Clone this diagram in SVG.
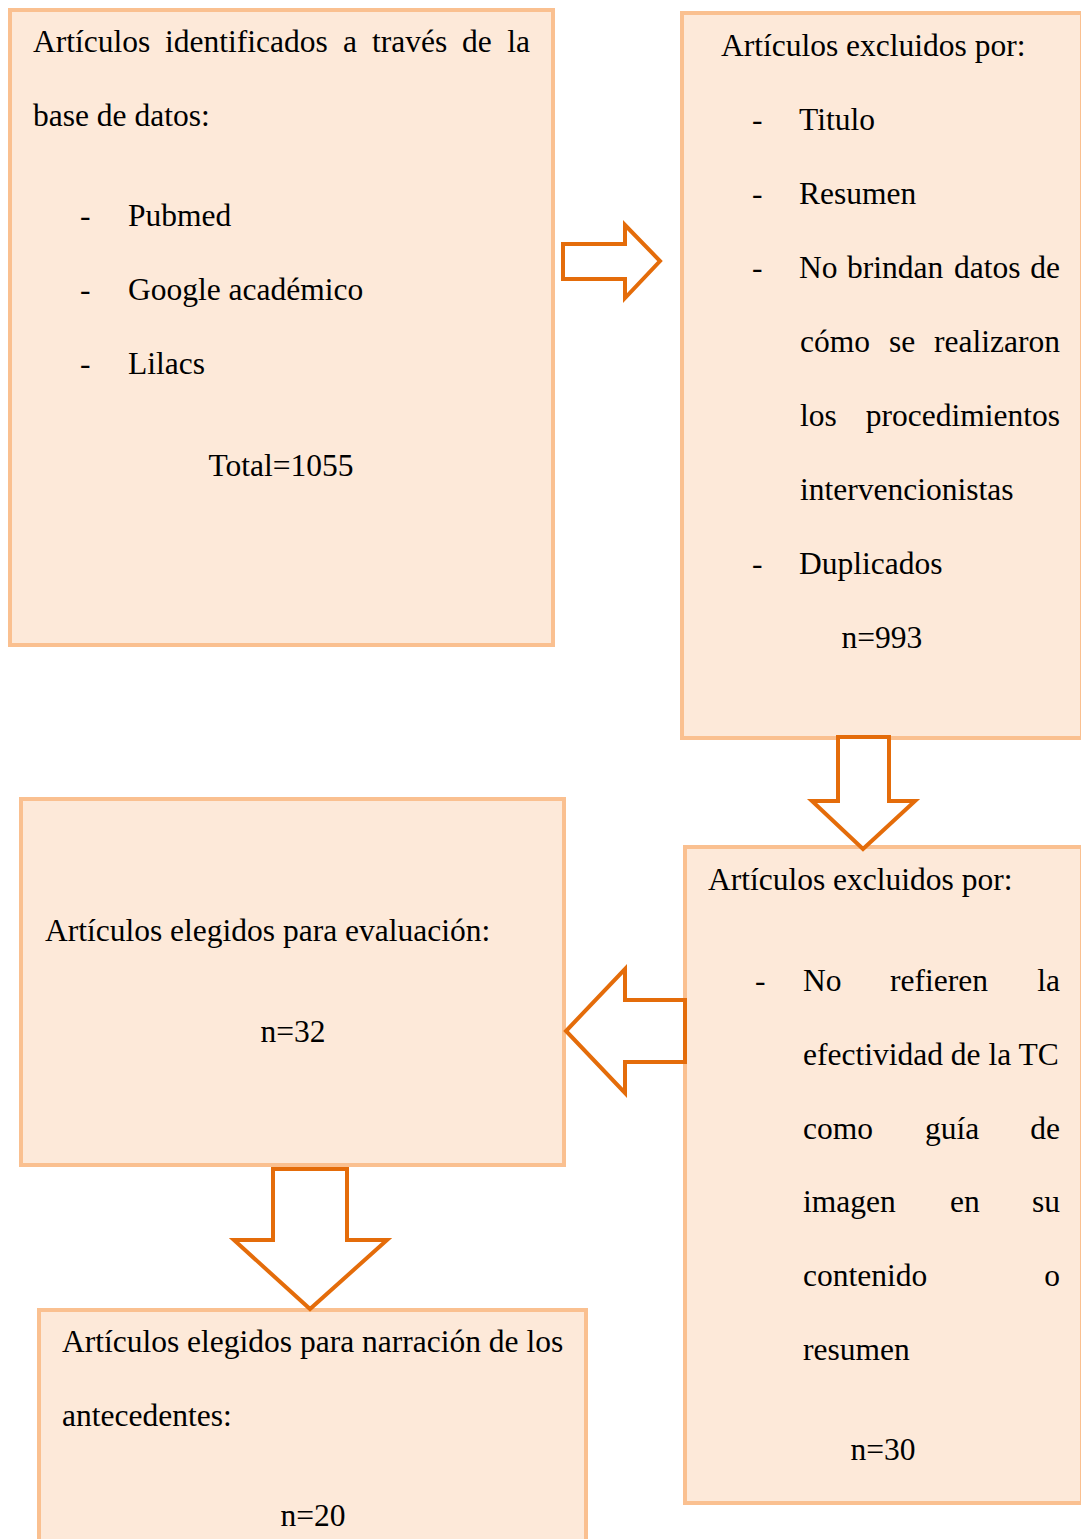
<svg xmlns="http://www.w3.org/2000/svg" width="1081" height="1539" viewBox="0 0 1081 1539">
<style>
.box{fill:#FDE9D9;stroke:#FAC090;stroke-width:4}
.arr{fill:#FFFFFF;stroke:#E46C0A;stroke-width:4;stroke-linejoin:miter}
text{font-family:"Liberation Serif","Times New Roman",serif;font-size:31.5px;fill:#000}
.c{text-anchor:middle}
.e{text-anchor:end}
</style>
<rect width="1081" height="1539" fill="#FFFFFF"/>
<g id="node-identificados">
<rect class="box" x="10" y="10" width="543" height="635"/>
<text x="33" y="52">Artículos</text>
<text x="165" y="52">identificados</text>
<text x="343" y="52">a</text>
<text x="372" y="52">través</text>
<text x="462" y="52">de</text>
<text x="530" y="52" class="e">la</text>
<text x="33" y="126">base de datos:</text>
<text x="80" y="226">-</text><text x="128" y="226">Pubmed</text>
<text x="80" y="300">-</text><text x="128" y="300">Google académico</text>
<text x="80" y="374">-</text><text x="128" y="374">Lilacs</text>
<text x="281" y="476" class="c">Total=1055</text>
</g>
<g id="node-excluidos1">
<rect class="box" x="682" y="13" width="400" height="725"/>
<text x="721" y="56">Artículos excluidos por:</text>
<text x="752" y="130">-</text><text x="799" y="130">Titulo</text>
<text x="752" y="204">-</text><text x="799" y="204">Resumen</text>
<text x="752" y="278">-</text>
<text x="799" y="278">No</text>
<text x="847" y="278">brindan</text>
<text x="954" y="278">datos</text>
<text x="1060" y="278" class="e">de</text>
<text x="800" y="352">cómo</text>
<text x="889" y="352">se</text>
<text x="1060" y="352" class="e">realizaron</text>
<text x="800" y="426">los</text>
<text x="1060" y="426" class="e">procedimientos</text>
<text x="800" y="500">intervencionistas</text>
<text x="752" y="574">-</text><text x="799" y="574">Duplicados</text>
<text x="882" y="648" class="c">n=993</text>
</g>
<g id="node-excluidos2">
<rect class="box" x="685" y="847" width="397" height="656"/>
<text x="708" y="890">Artículos excluidos por:</text>
<text x="755" y="991">-</text>
<text x="803" y="991">No</text>
<text x="890" y="991">refieren</text>
<text x="1060" y="991" class="e">la</text>
<text x="803" y="1065">efectividad de la TC</text>
<text x="803" y="1139">como</text>
<text x="925" y="1139">guía</text>
<text x="1060" y="1139" class="e">de</text>
<text x="803" y="1212">imagen</text>
<text x="950" y="1212">en</text>
<text x="1060" y="1212" class="e">su</text>
<text x="803" y="1286">contenido</text>
<text x="1060" y="1286" class="e">o</text>
<text x="803" y="1360">resumen</text>
<text x="883" y="1460" class="c">n=30</text>
</g>
<g id="node-evaluacion">
<rect class="box" x="21" y="799" width="543" height="366"/>
<text x="45" y="941">Artículos elegidos para evaluación:</text>
<text x="293" y="1042" class="c">n=32</text>
</g>
<g id="node-narracion">
<rect class="box" x="39" y="1310" width="547" height="260"/>
<text x="62" y="1352">Artículos elegidos para narración de los</text>
<text x="62" y="1426">antecedentes:</text>
<text x="313" y="1526" class="c">n=20</text>
</g>
<g id="connectors">
<polygon class="arr" points="563,244 625,244 625,225 660,261 625,298 625,279 563,279"/>
<polygon class="arr" points="838,737 889,737 889,801 915,801 863,849 812,801 838,801"/>
<polygon class="arr" points="685,1000 625,1000 625,969 566,1031 625,1093 625,1062 685,1062"/>
<polygon class="arr" points="273,1169 347,1169 347,1240 387,1240 310,1309 234,1240 273,1240"/>
</g>
</svg>
